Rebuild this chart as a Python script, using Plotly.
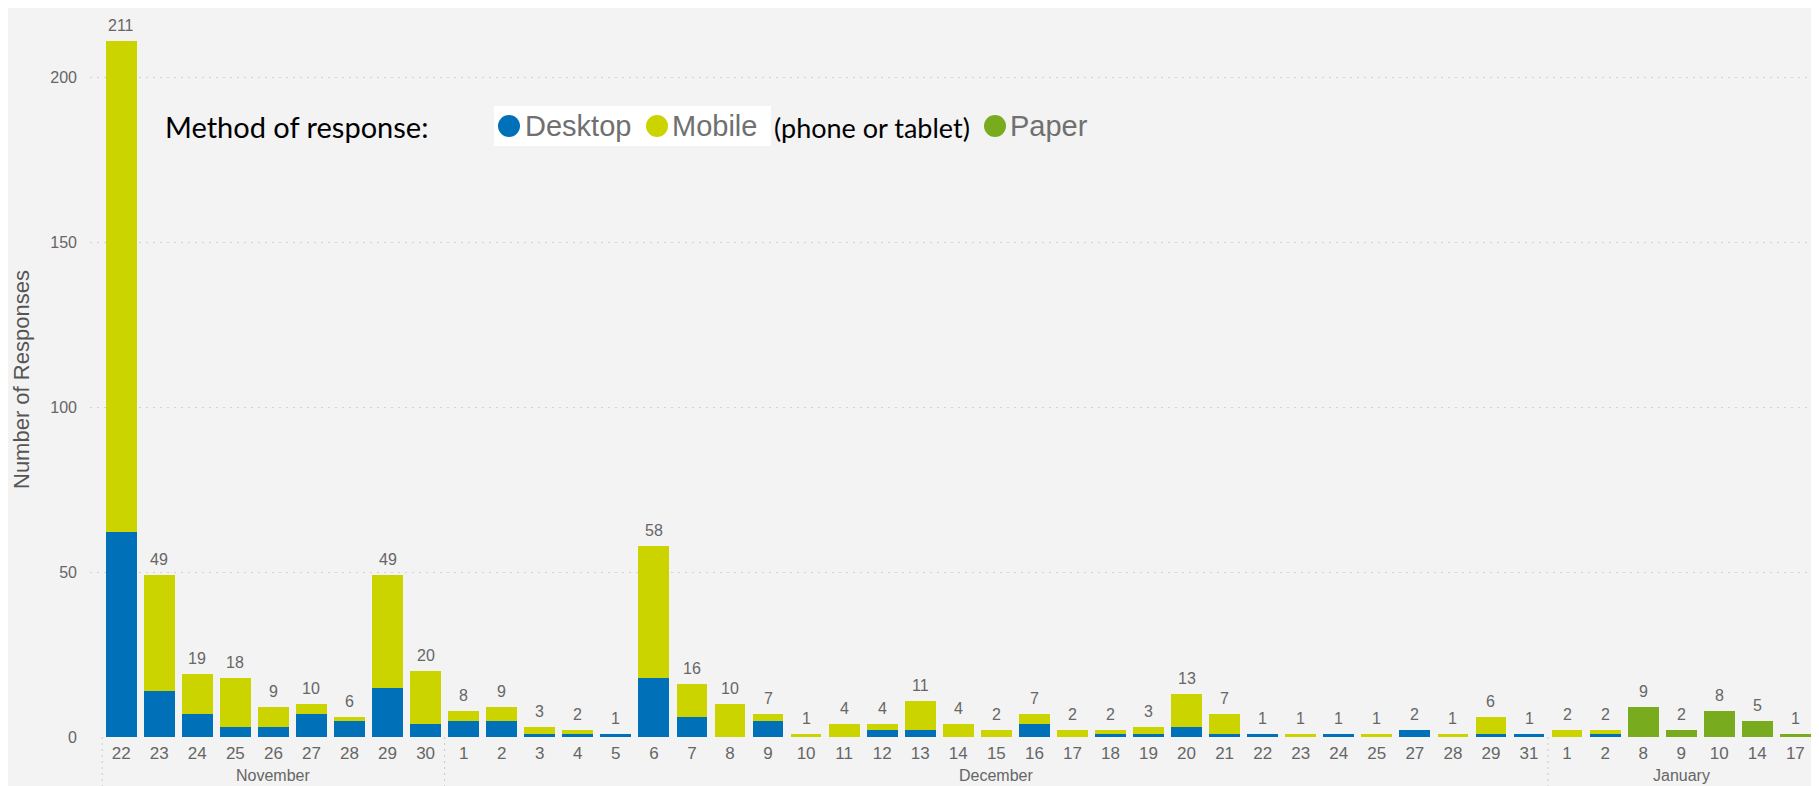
import plotly.graph_objects as go

# ---- data ----
days = ["22", "23", "24", "25", "26", "27", "28", "29", "30",
        "1", "2", "3", "4", "5", "6", "7", "8", "9", "10", "11", "12", "13", "14", "15",
        "16", "17", "18", "19", "20", "21", "22", "23", "24", "25", "27", "28", "29", "31",
        "1", "2", "8", "9", "10", "14", "17"]
months = ["November", "December", "January"]
month_counts = [9, 29, 7]

desktop = [62, 14, 7, 3, 3, 7, 5, 15, 4,
           5, 5, 1, 1, 1, 18, 6, 0, 5, 0, 0, 2, 2, 0, 0,
           4, 0, 1, 1, 3, 1, 1, 0, 1, 0, 2, 0, 1, 1,
           0, 1, 0, 0, 0, 0, 0]
mobile = [149, 35, 12, 15, 6, 3, 1, 34, 16,
          3, 4, 2, 1, 0, 40, 10, 10, 2, 1, 4, 2, 9, 4, 2,
          3, 2, 1, 2, 10, 6, 0, 1, 0, 1, 0, 1, 5, 0,
          2, 1, 0, 0, 0, 0, 0]
paper = [0, 0, 0, 0, 0, 0, 0, 0, 0,
         0, 0, 0, 0, 0, 0, 0, 0, 0, 0, 0, 0, 0, 0, 0,
         0, 0, 0, 0, 0, 0, 0, 0, 0, 0, 0, 0, 0, 0,
         0, 0, 9, 2, 8, 5, 1]
y_ticks = [0, 50, 100, 150, 200]

# ---- styling ----
C_DESK = "#0070B8"
C_MOB = "#CCD400"
C_PAP = "#78AC1E"
BG = "#F3F3F3"
TXT = "#666666"
FONT = "Liberation Sans, Arial, sans-serif"
CAL = "Lato, Open Sans, sans-serif"

# page offset (body margin) -> figure coordinates
OX, OY = 8, 8
W, H = 1808, 778
# plot area in page pixels: x 90..1814, y 20..737
ML, MR, MT, MB = 90 - OX, W - (1814 - OX), 20 - OY, H - (737 - OY)
PW, PH = W - ML - MR, H - MT - MB


def px(x):  # page pixel x -> paper
    return (x - OX - ML) / PW


def py(y):  # page pixel y -> paper
    return (H - MB - (y - OY)) / PH


x = list(range(len(days)))
totals = [d + m + p for d, m, p in zip(desktop, mobile, paper)]

fig = go.Figure()
for name, vals, col in [("Desktop", desktop, C_DESK), ("Mobile", mobile, C_MOB), ("Paper", paper, C_PAP)]:
    fig.add_trace(go.Bar(x=x, y=vals, name=name, marker=dict(color=col, line=dict(width=0)),
                         hoverinfo="x+y+name"))

annotations = []
for xi, t in zip(x, totals):
    annotations.append(dict(x=xi, y=t, xref="x", yref="y", text=str(t), showarrow=False,
                            yanchor="bottom", yshift=5,
                            font=dict(family=FONT, size=16, color=TXT)))

# month labels and separators
shapes = []
start = 0
bounds = [-0.5]
for mname, cnt in zip(months, month_counts):
    center = start + (cnt - 1) / 2
    annotations.append(dict(x=center, y=py(775), xref="x", yref="paper", text=mname,
                            showarrow=False, yanchor="middle",
                            font=dict(family=FONT, size=16, color=TXT)))
    start += cnt
    bounds.append(start - 0.5)
for b in bounds:
    shapes.append(dict(type="line", xref="x", yref="paper", x0=b, x1=b, y0=0, y1=py(790),
                       line=dict(color="#C8C8C8", width=1, dash="2px,4px")))

# y-axis title
annotations.append(dict(x=px(21), y=py(380), xref="paper", yref="paper", text="Number of Responses",
                        textangle=-90, showarrow=False, xanchor="center", yanchor="middle",
                        font=dict(family=FONT, size=22, color="#555555")))

# custom legend
LY = 126
annotations.append(dict(x=px(163), y=py(LY), xref="paper", yref="paper", text="Method of response:",
                        showarrow=False, xanchor="left", yanchor="middle",
                        font=dict(family=CAL, size=29, color="#000000")))
shapes.append(dict(type="rect", xref="paper", yref="paper", x0=px(494), x1=px(771), y0=py(106), y1=py(146),
                   fillcolor="white", line=dict(width=0)))
legend_items = [("Desktop", C_DESK, 509, 523), ("Mobile", C_MOB, 657, 670), ("Paper", C_PAP, 995, 1008)]
for name, col, cx, tx in legend_items:
    shapes.append(dict(type="circle", xref="paper", yref="paper", x0=px(cx - 11), x1=px(cx + 11),
                       y0=py(LY - 11), y1=py(LY + 11), fillcolor=col, line=dict(width=0)))
    annotations.append(dict(x=px(tx), y=py(LY), xref="paper", yref="paper", text=name,
                            showarrow=False, xanchor="left", yanchor="middle",
                            font=dict(family=FONT, size=29, color="#707070")))
annotations.append(dict(x=px(772), y=py(LY + 1), xref="paper", yref="paper", text="(phone or tablet)",
                        showarrow=False, xanchor="left", yanchor="middle",
                        font=dict(family=CAL, size=27, color="#000000")))

fig.update_layout(
    width=W, height=H,
    margin=dict(l=ML, r=MR, t=MT, b=MB, pad=0),
    paper_bgcolor=BG, plot_bgcolor=BG,
    barmode="stack", bargap=0.19,
    showlegend=False,
    shapes=shapes, annotations=annotations,
    xaxis=dict(range=[-0.82, 44.49], tickmode="array", tickvals=x, ticktext=days,
               showgrid=False, zeroline=False, showline=False,
               ticks="outside", ticklen=1, tickcolor="rgba(0,0,0,0)",
               tickfont=dict(family=FONT, size=17, color=TXT)),
    yaxis=dict(range=[0, PH / 3.3], tickmode="array", tickvals=y_ticks,
               showgrid=True, gridcolor="#D2D2D2", griddash="2px,5px", gridwidth=1,
               zeroline=False, showline=False, ticklabelstandoff=12,
               tickfont=dict(family=FONT, size=16, color=TXT)),
)

fig.write_html("out.html")
